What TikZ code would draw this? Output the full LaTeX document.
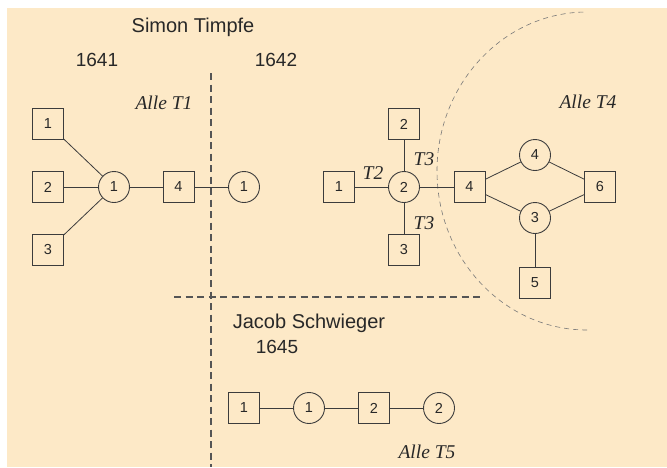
\documentclass[tikz,border=0pt]{standalone}
\usepackage{fontspec}
\setmainfont{Liberation Sans}
\newfontfamily\itfont{Liberation Serif}
\definecolor{bgc}{RGB}{253,233,199}
\definecolor{linec}{RGB}{60,60,60}
\definecolor{txtc}{RGB}{40,40,40}
\definecolor{divc}{RGB}{85,85,85}
\definecolor{arcc}{RGB}{120,120,120}
\begin{document}
\begin{tikzpicture}[x=1pt,y=-1pt,
  sq/.style={draw=linec, line width=0.9pt, minimum size=31pt, inner sep=0pt, font=\fontsize{14.5}{14.5}\selectfont, text=txtc},
  ci/.style={sq, circle},
  lab/.style={font=\fontsize{20}{24}\selectfont, text=txtc, inner sep=0pt},
  yr/.style={font=\fontsize{19}{22}\selectfont, text=txtc, inner sep=0pt},
  itl/.style={font=\itfont\itshape\fontsize{19.5}{21}\selectfont, text=txtc, inner sep=0pt},
  edge/.style={draw=linec, line width=0.8pt},
  divider/.style={draw=divc, line width=1.8pt, dash pattern=on 7pt off 4.5pt},
  arcline/.style={draw=arcc, line width=0.6pt, dash pattern=on 5pt off 4pt}]
\useasboundingbox (0,0) rectangle (667,467);
\fill[bgc] (7,8) rectangle (667,467);

% dividers
\coordinate (vtop) at (211,73);
\coordinate (vbot) at (211,467);
\coordinate (hl) at (174,297);
\coordinate (hr) at (481,297);
\draw[divider] (vtop) -- (vbot);
\draw[divider] (hl) -- (hr);

% dashed arc
\coordinate (arcstart) at (587,330);
\draw[arcline] (arcstart) arc[start angle=90, end angle=270, x radius=150, y radius=159];

% texts
\node[lab] (simon) at (193,27) {Simon Timpfe};
\node[yr] (y1641) at (97,60) {1641};
\node[yr] (y1642) at (276,60) {1642};
\node[lab] (jacob) at (309,323) {Jacob Schwieger};
\node[yr] (y1645) at (277,347) {1645};
\node[itl] (alleT1) at (164,103) {Alle T1};
\node[itl] (alleT4) at (588,102) {Alle T4};
\node[itl] (alleT5) at (427,452) {Alle T5};

% left graph (1641)
\node[sq] (a1) at (48,124) {1};
\node[sq] (a2) at (48,187) {2};
\node[sq] (a3) at (48,250) {3};
\node[ci] (ac1) at (114,187) {1};
\node[sq] (a4) at (178.5,187) {4};
\node[ci] (bc1) at (244,187) {1};
\draw[edge] (a1) -- (ac1);
\draw[edge] (a2) -- (ac1);
\draw[edge] (a3) -- (ac1);
\draw[edge] (ac1) -- (a4);
\draw[edge] (a4) -- (bc1);

% right graph (1642)
\node[sq] (b2) at (404,124) {2};
\node[sq] (b1) at (339,187) {1};
\node[ci] (bc2) at (404,187) {2};
\node[sq] (b3) at (404,250) {3};
\node[sq] (b4) at (469.5,187) {4};
\node[ci] (bc4) at (535,155) {4};
\node[ci] (bc3) at (535,218) {3};
\node[sq] (b6) at (600,187) {6};
\node[sq] (b5) at (535,283) {5};
\draw[edge] (b1) -- (bc2);
\draw[edge] (b2) -- (bc2);
\draw[edge] (b3) -- (bc2);
\draw[edge] (bc2) -- (b4);
\draw[edge] (b4) -- (bc4);
\draw[edge] (b4) -- (bc3);
\draw[edge] (bc4) -- (b6);
\draw[edge] (bc3) -- (b6);
\draw[edge] (bc3) -- (b5);
\node[itl] (t2) at (373,173) {T2};
\node[itl] (t3a) at (424,159) {T3};
\node[itl] (t3b) at (424,223) {T3};

% bottom graph (1645)
\node[sq] (c1) at (244,408) {1};
\node[ci] (cc1) at (309,408) {1};
\node[sq] (c2) at (374,408) {2};
\node[ci] (cc2) at (439,408) {2};
\draw[edge] (c1) -- (cc1);
\draw[edge] (cc1) -- (c2);
\draw[edge] (c2) -- (cc2);
\end{tikzpicture}
\end{document}
